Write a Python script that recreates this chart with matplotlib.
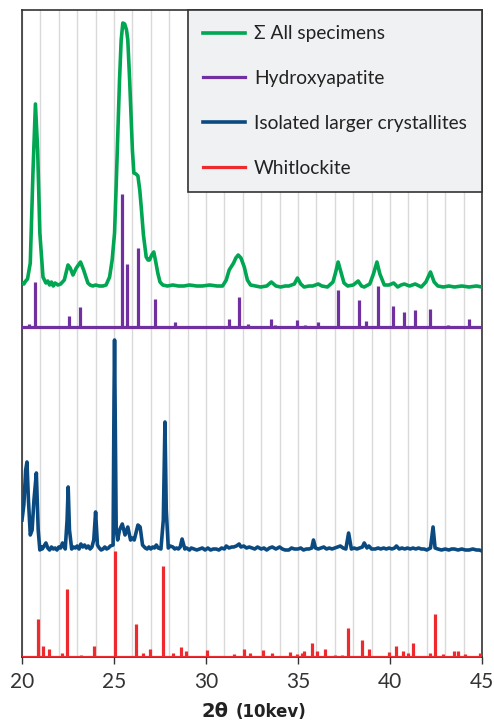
import numpy as np
import matplotlib.pyplot as plt
from matplotlib.ticker import MultipleLocator

plt.rcParams['font.family'] = ['Lato', 'DejaVu Sans']

# sum of all specimens (green)
sum_x = [20.0, 20.1, 20.2, 20.3, 20.45, 20.6, 20.73, 20.85, 20.97, 21.14, 21.3, 21.4, 21.5, 21.6,
         21.7, 21.8, 21.95, 22.1, 22.3, 22.5, 22.62, 22.77, 22.95, 23.18, 23.35, 23.58, 23.7,
         23.85, 24.0, 24.2, 24.4, 24.57, 24.76, 24.9, 25.03, 25.12, 25.21, 25.3, 25.39, 25.48,
         25.58, 25.68, 25.75, 25.85, 25.93, 26.0, 26.08, 26.2, 26.3, 26.4, 26.48, 26.6, 26.75,
         26.85, 26.93, 27.05, 27.16, 27.25, 27.38, 27.5, 27.65, 27.9, 28.2, 28.5, 28.8, 29.1,
         29.5, 29.8, 30.2, 30.6, 30.9, 31.1, 31.26, 31.5, 31.62, 31.75, 31.9, 32.08, 32.25,
         32.42, 32.7, 32.97, 33.3, 33.55, 33.8, 34.06, 34.3, 34.5, 34.8, 34.97, 35.15, 35.33,
         35.6, 35.8, 36.1, 36.3, 36.6, 36.9, 37.05, 37.18, 37.3, 37.5, 37.7, 38.0, 38.27, 38.45,
         38.6, 38.9, 39.1, 39.29, 39.45, 39.69, 39.95, 40.2, 40.42, 40.6, 40.78, 41.06, 41.37,
         41.7, 41.95, 42.2, 42.4, 42.6, 42.9, 43.2, 43.5, 43.9, 44.3, 44.7, 45.0]
sum_y = [4, 3, 6, 8, 24, 117, 183, 137, 54, 10, 4, 6, 2, 5,
         1, 4, 2, 3, 7, 22, 19, 12, 19, 25, 17, 4, 2,
         1, 2, 1, 1, 2, 10, 27, 54, 102, 154, 207, 247, 264,
         263, 257, 247, 207, 170, 137, 114, 113, 111, 97, 80, 52, 30,
         27, 27, 32, 35, 27, 14, 5, 2, 1, 2, 1, 1, 2,
         1, 1, 2, 1, 1, 7, 17, 24, 29, 32, 29, 20, 7,
         2, 1, 0, 1, 5, 1, 0, 1, 1, 3, 9, 3, 0,
         1, 1, 3, 1, 0, 5, 15, 25, 17, 4, 1, 2, 6, 1,
         0, 3, 13, 25, 13, 2, 2, 4, 0, 2, 3, 1, 3,
         0, 5, 15, 5, 1, 0, 1, 0, 1, 0, 1, 0]

# hydroxyapatite reference peaks (purple)
hap_x = [20.36, 20.73, 22.53, 23.17, 25.41, 25.73, 26.31, 27.21, 28.32, 31.25, 31.78, 32.27,
         33.55, 33.75, 34.97, 35.38, 36.1, 37.2, 38.29, 38.7, 39.33, 40.14, 40.74, 41.37,
         42.19, 43.17, 44.29]
hap_y = [3, 45, 11, 20, 133, 63, 79, 28, 5, 8, 30, 3,
         8, 2, 7, 2, 5, 37, 27, 6, 41, 21, 15, 17,
         18, 2, 8]

# isolated larger crystallites (blue)
iso_x = [20.0, 20.1, 20.2, 20.27, 20.35, 20.45, 20.55, 20.65, 20.78, 20.88, 20.97, 21.05, 21.1,
         21.2, 21.3, 21.4, 21.5, 21.6, 21.7, 21.8, 21.9, 22.0, 22.1, 22.2, 22.35, 22.45, 22.51,
         22.58, 22.7, 22.8, 22.9, 23.0, 23.1, 23.2, 23.3, 23.4, 23.5, 23.6, 23.7, 23.8, 23.9,
         24.0, 24.1, 24.2, 24.3, 24.4, 24.5, 24.6, 24.7, 24.8, 24.95, 25.0, 25.03, 25.07, 25.12,
         25.2, 25.3, 25.45, 25.6, 25.75, 25.9, 26.0, 26.1, 26.3, 26.42, 26.55, 26.7, 26.8, 26.9,
         27.0, 27.1, 27.2, 27.3, 27.4, 27.55, 27.68, 27.77, 27.84, 27.95, 28.05, 28.2, 28.3,
         28.4, 28.5, 28.6, 28.7, 28.85, 28.95, 29.1, 29.2, 29.35, 29.5, 29.65, 29.8, 29.95,
         30.1, 30.25, 30.4, 30.55, 30.7, 30.85, 31.0, 31.1, 31.25, 31.4, 31.5, 31.65, 31.8,
         31.9, 32.05, 32.2, 32.35, 32.5, 32.65, 32.8, 33.0, 33.15, 33.3, 33.45, 33.6, 33.8,
         34.0, 34.15, 34.3, 34.5, 34.65, 34.8, 35.0, 35.15, 35.3, 35.45, 35.6, 35.75, 35.84,
         35.95, 36.1, 36.25, 36.4, 36.55, 36.7, 36.85, 37.0, 37.15, 37.3, 37.45, 37.6, 37.75,
         37.9, 38.05, 38.2, 38.35, 38.5, 38.6, 38.75, 38.85, 39.0, 39.2, 39.35, 39.5, 39.65,
         39.8, 39.95, 40.1, 40.25, 40.35, 40.5, 40.65, 40.8, 40.95, 41.1, 41.25, 41.4, 41.55,
         41.7, 41.85, 42.0, 42.2, 42.34, 42.45, 42.6, 42.8, 43.0, 43.2, 43.35, 43.5, 43.7,
         43.9, 44.1, 44.3, 44.5, 44.7, 44.85, 45.0]
iso_y = [30, 45, 80, 88, 50, 15, 20, 50, 77, 20, 0, 3, 1,
         4, 7, 2, 0, 3, 1, 2, 0, 3, 2, 7, 1, 30, 63,
         20, 1, 3, 2, 4, 1, 6, 3, 5, 2, 4, 1, 3, 10,
         38, 5, 2, 0, 1, 3, 1, 2, 4, 5, 150, 210, 130, 20,
         10, 20, 26, 15, 23, 10, 12, 10, 25, 23, 5, 2, 1, 3,
         1, 3, 2, 5, 2, 1, 30, 128, 40, 2, 4, 3, 1,
         2, 1, 3, 11, 1, 2, 0, 2, 1, 0, 1, 2, 0,
         2, 0, 1, 1, 0, 2, 1, 4, 2, 3, 3, 4, 6,
         3, 4, 2, 3, 2, 1, 3, 1, 2, 0, 2, 3, 1,
         3, 1, 0, 0, 2, 1, 1, 2, 0, 1, 1, 2, 10,
         2, 1, 2, 3, 1, 2, 1, 2, 3, 4, 2, 1, 17,
         1, 2, 1, 2, 3, 7, 2, 4, 1, 1, 2, 1, 2,
         1, 2, 1, 2, 4, 1, 2, 1, 2, 1, 2, 1, 2,
         1, 1, 0, 2, 23, 2, 1, 0, 1, 0, 1, 1, 0,
         1, 0, 0, 1, 0, 0, -1]

# whitlockite reference peaks (red)
wh_x = [20.85, 21.16, 21.45, 22.18, 22.46, 23.22, 23.94, 25.03, 26.17, 26.6, 26.98, 27.67,
        28.2, 28.66, 28.9, 30.05, 31.5, 32.05, 32.4, 33.1, 33.6, 34.56, 34.96, 35.2, 35.35,
        35.78, 36.02, 36.45, 37.0, 37.4, 37.72, 38.5, 38.85, 39.95, 40.35, 40.7, 40.97, 41.26,
        42.17, 42.43, 42.9, 43.5, 43.72, 44.08, 44.88]
wh_y = [38, 11, 8, 4, 68, 2, 11, 106, 33, 4, 8, 91,
        4, 10, 6, 7, 3, 8, 4, 7, 4, 5, 3, 4, 6,
        14, 6, 8, 2, 2, 29, 17, 8, 5, 11, 6, 4, 14,
        4, 43, 3, 6, 6, 3, 4]

labels = ['\u03a3 All specimens', 'Hydroxyapatite', 'Isolated larger crystallites', 'Whitlockite']
colors = ['#00a651', '#7030a0', '#0b4a80', '#ee2a2e']

# vertical offsets of the stacked patterns
off_sum, off_hap, off_iso, off_wh = 370, 330, 107, 0

fig = plt.figure(figsize=(4.94, 7.2), dpi=100)
ax = fig.add_axes([22 / 494, 63 / 720, 460 / 494, 647 / 720])

lw = 2.3
ax.plot(sum_x, np.array(sum_y) + off_sum, color=colors[0], lw=2.6, label=labels[0], zorder=3)
ax.axhline(off_hap, color=colors[1], lw=lw, label=labels[1], zorder=3)
ax.vlines(hap_x, off_hap, np.array(hap_y) + off_hap, color=colors[1], lw=lw, zorder=3)
ax.plot(iso_x, np.array(iso_y) + off_iso, color=colors[2], lw=2.6, label=labels[2], zorder=3)
ax.axhline(off_wh, color=colors[3], lw=lw, label=labels[3], zorder=3)
ax.vlines(wh_x, off_wh, np.array(wh_y) + off_wh, color=colors[3], lw=lw, zorder=3)

ax.set_xlim(20, 45)
ax.set_ylim(0, 647)
ax.set_yticks([])
ax.xaxis.set_major_locator(MultipleLocator(5))
ax.xaxis.set_minor_locator(MultipleLocator(1))
ax.grid(axis='x', which='both', color='#d9d9d9', lw=1, zorder=0)
ax.tick_params(axis='x', which='major', length=5, width=1, colors='#333333', labelsize=15, pad=6)
ax.tick_params(axis='x', which='minor', length=0)
for s in ax.spines.values():
    s.set_color('#333333')
    s.set_linewidth(1.2)

leg = ax.legend(loc='upper right', borderaxespad=0, fancybox=False, framealpha=1,
                facecolor='#f0f1f3', edgecolor='#333333', fontsize=13.8,
                handlelength=2.2, handletextpad=0.45, labelspacing=1.45,
                borderpad=0.8)
leg.get_frame().set_linewidth(1.2)
for t in leg.get_texts():
    t.set_color('#222222')

ax.text(0.449, -0.093, '2\u03b8', transform=ax.transAxes, ha='right', va='baseline',
        fontsize=14, fontweight='bold', color='#222222', family=['DejaVu Sans'])
ax.text(0.465, -0.093, '(10kev)', transform=ax.transAxes, ha='left', va='baseline',
        fontsize=12, fontweight='bold', color='#222222', family=['DejaVu Sans'])

fig.savefig('out.png', dpi=100)
